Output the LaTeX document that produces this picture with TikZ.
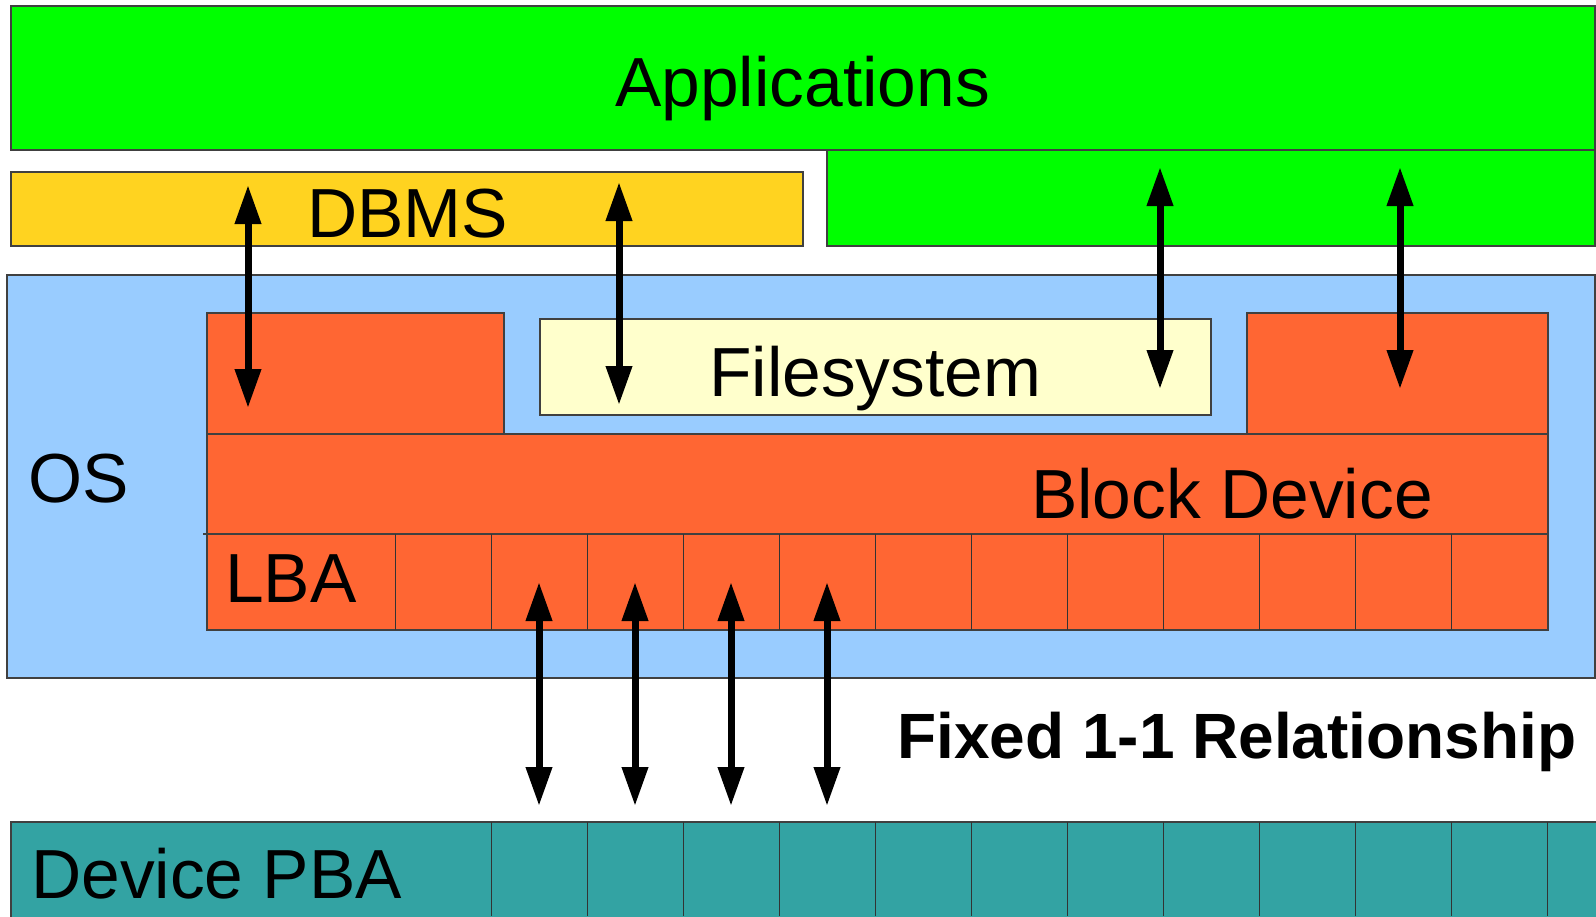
\documentclass[tikz,border=0pt]{standalone}
\usepackage{fontspec}
\setmainfont{Liberation Sans}
\usetikzlibrary{arrows.meta}
\definecolor{appgreen}{HTML}{00FF00}
\definecolor{dbmsgold}{HTML}{FFD320}
\definecolor{osblue}{HTML}{99CCFF}
\definecolor{blkorange}{HTML}{FF6633}
\definecolor{fsyellow}{HTML}{FFFFCC}
\definecolor{pbateal}{HTML}{33A3A3}
\begin{document}
\begin{tikzpicture}[x=1pt,y=-1pt,
  layer/.style={draw=black!75,line width=1.2pt},
  cellline/.style={draw=black!80,line width=1pt},
  lbl/.style={anchor=base west,inner sep=0pt,font=\fontsize{69.5}{80}\selectfont},
  link/.style={line width=7pt,{Triangle[length=39pt,width=25pt]}-{Triangle[length=39pt,width=25pt]}},
]
\useasboundingbox (0,0) rectangle (1596,916);
\begin{scope}
\clip (0,0) rectangle (1596,916);

% application layer
\path[layer,fill=appgreen] (11,6) rectangle (1595,150);
\path[layer,fill=appgreen] (827,150) rectangle (1595,246);
\path[layer,fill=dbmsgold] (11,172) rectangle (803,246);

% operating system
\path[layer,fill=osblue] (7,275) rectangle (1595,678);
\path[layer,fill=blkorange] (207,313) rectangle (504,434);
\path[layer,fill=blkorange] (1247,313) rectangle (1548,434);
\path[layer,fill=fsyellow] (540,319) rectangle (1211,415);
\path[layer,fill=blkorange] (207,434) rectangle (1548,534);
\path[layer,fill=blkorange] (207,534) rectangle (1548,630);
\draw[layer] (203,534) -- (1548,534);
\foreach \k in {0,...,11}
  \draw[cellline] ({395+96.08*\k},534) -- ({395+96.08*\k},630);

% physical blocks on the device
\path[layer,fill=pbateal] (11,822) rectangle (1700,1000);
\foreach \k in {1,...,13}
  \draw[cellline] ({395+96.08*\k},822) -- ({395+96.08*\k},916);
\end{scope}

% labels
\node[lbl] (apps) at (615,106) {Applications};
\node[lbl] (dbms) at (307,237) {DBMS};
\node[lbl] (fs) at (709,396) {Filesystem};
\node[lbl] (os) at (28,502) {OS};
\node[lbl] (blk) at (1031,518) {Block Device};
\node[lbl] (lba) at (225,602) {LBA};
\node[lbl] (pba) at (31,898) {Device PBA};
\node[lbl,font=\bfseries\fontsize{64}{76}\selectfont] (fixed) at (897,758) {Fixed 1-1 Relationship};

% access paths between the layers
\coordinate (d1t) at (248,185); \coordinate (d1b) at (248,408);
\coordinate (d2t) at (619,182); \coordinate (d2b) at (619,405);
\coordinate (a1t) at (1160,167); \coordinate (a1b) at (1160,389);
\coordinate (a2t) at (1400,167); \coordinate (a2b) at (1400,389);
\draw[link] (d1t) -- (d1b);
\draw[link] (d2t) -- (d2b);
\draw[link] (a1t) -- (a1b);
\draw[link] (a2t) -- (a2b);

% LBA to PBA mapping
\foreach \i/\x in {1/539,2/635,3/731,4/827} {
  \coordinate (m\i t) at (\x,582);
  \coordinate (m\i b) at (\x,806);
  \draw[link] (m\i t) -- (m\i b);
}
\end{tikzpicture}
\end{document}
